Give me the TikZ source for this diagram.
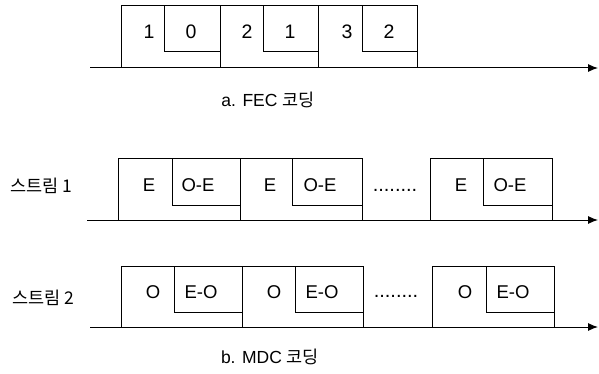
\documentclass[tikz,border=0pt]{standalone}
\usepackage{fontspec}
\setmainfont{Liberation Sans}
\newfontfamily\kr{Noto Sans CJK KR}
\usetikzlibrary{arrows.meta}
\begin{document}
\begin{tikzpicture}[x=1pt,y=-1pt,
  frame/.style={draw, line width=1pt, rectangle, inner sep=0pt, outer sep=0pt},
  outerA/.style={frame, anchor=south west, minimum height=62pt},
  innerA/.style={frame, anchor=north east, minimum height=46pt},
  outerB/.style={frame, anchor=south west, minimum height=61pt},
  innerB/.style={frame, anchor=north east, minimum height=46pt},
  axis/.style={line width=1pt, -{Latex[length=10pt,width=8pt]}},
  digit/.style={inner sep=0pt, font=\fontsize{19.5}{21}\selectfont},
  sym/.style={inner sep=0pt, font=\fontsize{18.5}{20}\selectfont},
  dotsl/.style={inner sep=0pt, font=\fontsize{20}{22}\selectfont},
  stream/.style={inner sep=0pt, font=\kr\fontsize{17.5}{19}\selectfont},
  caption/.style={inner sep=0pt, font=\fontsize{17.5}{19}\selectfont}]
\useasboundingbox (0,0) rectangle (599,374);

% ---------- a. FEC ----------
\coordinate (aS) at (90,68);
\coordinate (aE) at (598,68);
\draw[axis] (aS) -- (aE);
\node[outerA, minimum width=99pt] (a1) at (121,68) {};
\node[innerA, minimum width=56pt] (a1i) at (a1.north east) {};
\node[outerA, minimum width=98pt] (a2) at (a1.south east) {};
\node[innerA, minimum width=55pt] (a2i) at (a2.north east) {};
\node[outerA, minimum width=99pt] (a3) at (a2.south east) {};
\node[innerA, minimum width=55pt] (a3i) at (a3.north east) {};
\node[digit] (ta1) at (149,32) {1};
\node[digit] (ta1i) at (191,32) {0};
\node[digit] (ta2) at (247,32) {2};
\node[digit] (ta2i) at (290,32) {1};
\node[digit] (ta3) at (347,32) {3};
\node[digit] (ta3i) at (389,32) {2};
\node[caption] (capa) at (268,100) {a. FEC {\kr 코딩}};

% ---------- stream 1 ----------
\node[stream] (s1) at (41,186) {스트림 1};
\coordinate (bS) at (87,220);
\coordinate (bE) at (598,220);
\draw[axis] (bS) -- (bE);
\node[outerB, minimum width=122pt] (b1) at (118,220) {};
\node[innerB, minimum width=68pt] (b1i) at (b1.north east) {};
\node[outerB, minimum width=122pt] (b2) at (b1.south east) {};
\node[innerB, minimum width=70pt] (b2i) at (b2.north east) {};
\node[outerB, minimum width=122pt] (b3) at (430,220) {};
\node[innerB, minimum width=69pt] (b3i) at (b3.north east) {};
\node[sym] (tb1) at (149,185) {E};
\node[sym] (tb1i) at (198,185) {O-E};
\node[sym] (tb2) at (270,185) {E};
\node[sym] (tb2i) at (320,185) {O-E};
\node[sym] (tb3) at (461,185) {E};
\node[sym] (tb3i) at (510,185) {O-E};
\node[dotsl, anchor=base] (db) at (395,192) {........};

% ---------- stream 2 ----------
\node[stream] (s2) at (43,298) {스트림 2};
\coordinate (cS) at (90,327);
\coordinate (cE) at (598,327);
\draw[axis] (cS) -- (cE);
\node[outerB, minimum width=121pt] (c1) at (121,327) {};
\node[innerB, minimum width=68pt] (c1i) at (c1.north east) {};
\node[outerB, minimum width=121pt] (c2) at (c1.south east) {};
\node[innerB, minimum width=68pt] (c2i) at (c2.north east) {};
\node[outerB, minimum width=122pt] (c3) at (432,327) {};
\node[innerB, minimum width=68pt] (c3i) at (c3.north east) {};
\node[sym] (tc1) at (153,292) {O};
\node[sym] (tc1i) at (201,292) {E-O};
\node[sym] (tc2) at (274,292) {O};
\node[sym] (tc2i) at (322,292) {E-O};
\node[sym] (tc3) at (465,292) {O};
\node[sym] (tc3i) at (513,292) {E-O};
\node[dotsl, anchor=base] (dc) at (396,297) {........};
\node[caption] (capb) at (270,357) {b. MDC {\kr 코딩}};
\end{tikzpicture}
\end{document}
